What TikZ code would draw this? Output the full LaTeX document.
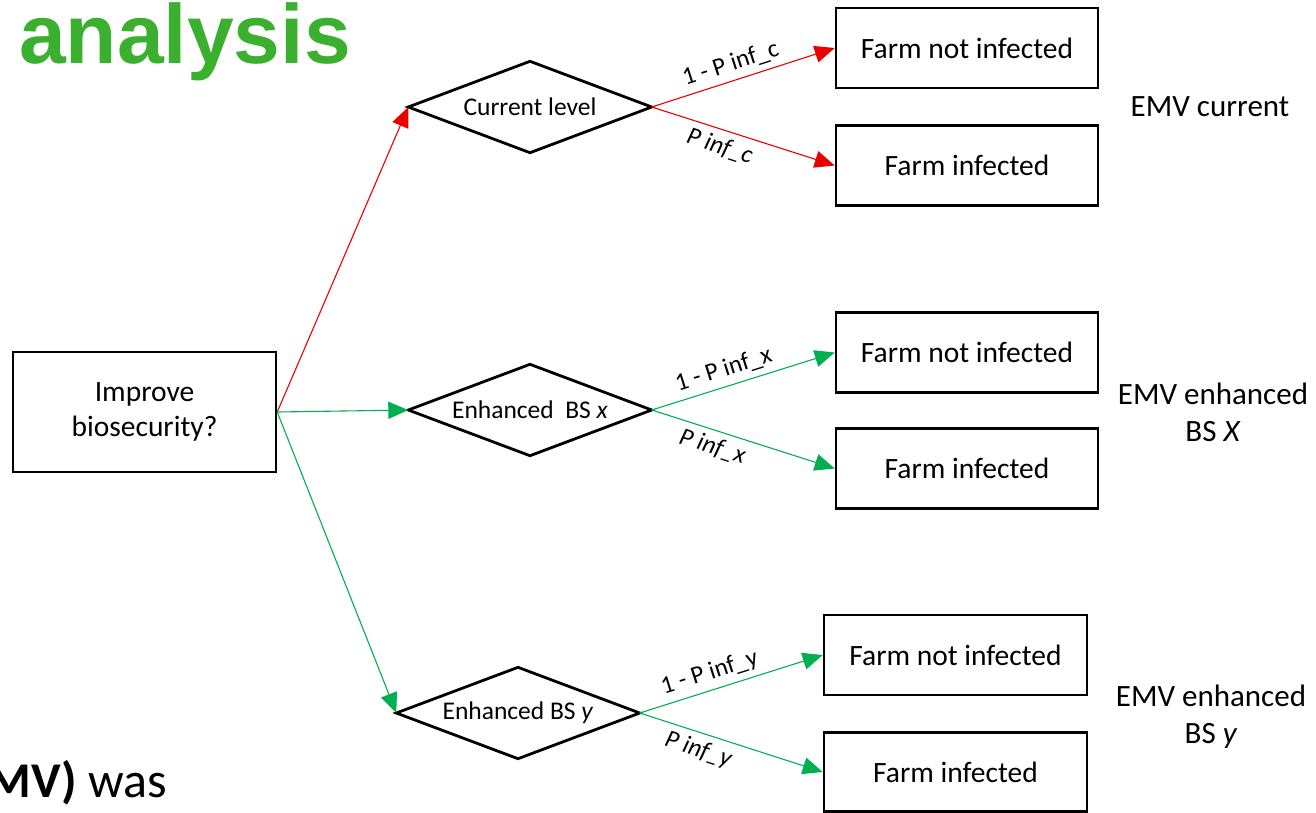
\documentclass[tikz,border=0pt]{standalone}
\usepackage{fontspec}
\setmainfont{Carlito}
\newfontfamily\headfont{Liberation Sans}
\usetikzlibrary{arrows.meta}
\definecolor{redline}{RGB}{235,0,0}
\definecolor{greenline}{RGB}{0,176,80}
\definecolor{headgreen}{RGB}{59,175,46}
\begin{document}
\begin{tikzpicture}[x=1pt,y=-1pt,
  box/.style={draw,line width=2.5pt,inner sep=0pt,font=\fontsize{29.5}{35}\selectfont,align=center},
  farm/.style={box,minimum width=262pt,minimum height=80pt},
  dia/.style={inner sep=0pt,minimum width=243pt,minimum height=91pt,font=\fontsize{25.5}{30}\selectfont},
  diaedge/.style={draw,line width=2.8pt,line join=miter},
  conn/.style={line width=1.1pt,-{Triangle[length=20pt,width=17pt]}},
  lab/.style={font=\fontsize{25}{30}\selectfont,sloped,inner sep=6pt,text=black},
  emv/.style={font=\fontsize{31}{37}\selectfont,align=center}]
\useasboundingbox (0,0) rectangle (1316,812);

% title fragments
\node[anchor=base west,inner sep=0pt,font=\headfont\bfseries\fontsize{84}{84}\selectfont,text=headgreen] (title) at (19,63) {analysis};
\node[anchor=base east,inner sep=0pt,font=\fontsize{50}{60}\selectfont] (foot) at (167,797) {\textbf{MV)} was};

% root
\node[box,minimum width=263pt,minimum height=120pt] (imp) at (144.5,412) {Improve\\biosecurity?};

% decision diamonds
\node[dia] (cur) at (530,107) {Current level};
\node[dia] (bsx) at (530,410) {Enhanced~ BS \textit{x}};
\node[dia] (bsy) at (518,713) {Enhanced BS \textit{y}};
\foreach \d in {cur,bsx,bsy}
  \draw[diaedge] (\d.west) -- (\d.north) -- (\d.east) -- (\d.south) -- cycle;

% outcomes
\node[farm] (n1) at (967,48) {Farm not infected};
\node[farm] (i1) at (967,165.5) {Farm infected};
\node[farm] (n2) at (967,352.5) {Farm not infected};
\node[farm] (i2) at (967,468.5) {Farm infected};
\node[farm,minimum width=263pt] (n3) at (955.5,655) {Farm not infected};
\node[farm,minimum width=263pt,minimum height=79pt] (i3) at (955.5,772) {Farm infected};

% EMV labels
\node[emv] (e1) at (1210,107) {EMV current};
\node[emv] (e2) at (1213,412) {EMV enhanced\\BS \textit{X}};
\node[emv] (e3) at (1211,717) {EMV enhanced\\BS \textit{y}};

% connectors
\draw[conn,redline] (imp.east) -- (cur.west);
\draw[conn,greenline] (imp.east) -- (bsx.west);
\draw[conn,greenline] (imp.east) -- (bsy.west);

\draw[conn,redline] (cur.east) -- (n1.west) node[lab,above,pos=0.46] {1 - P inf\_c};
\draw[conn,redline] (cur.east) -- (i1.west) node[lab,below,pos=0.40] {\textit{P inf\_c}};
\draw[conn,greenline] (bsx.east) -- (n2.west) node[lab,above,pos=0.42] {1 - P inf\_x};
\draw[conn,greenline] (bsx.east) -- (i2.west) node[lab,below,pos=0.36] {\textit{P inf\_x}};
\draw[conn,greenline] (bsy.east) -- (n3.west) node[lab,above,pos=0.41] {1 - P inf\_y};
\draw[conn,greenline] (bsy.east) -- (i3.west) node[lab,below,pos=0.35] {\textit{P inf\_y}};
\end{tikzpicture}
\end{document}
